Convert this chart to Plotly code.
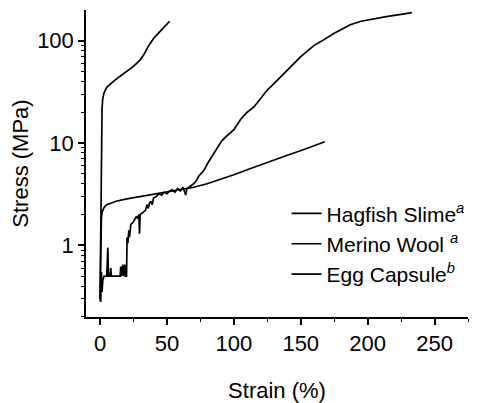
import plotly.graph_objects as go

# Hagfish slime (long curve)
hag_x = [0, 0.5, 1, 1.5, 2, 3, 4, 5, 5.8, 6.3, 7.5, 8, 8.5, 12, 15, 15.5, 16, 17, 17.5, 18.5, 19, 19.8,
         20.2, 20.8, 21.5, 22, 23, 25, 26, 27, 28, 29, 29.5, 30, 32, 34, 35, 36, 37, 38, 39, 40, 42, 44,
         46, 48, 50, 52, 54, 56, 58, 60, 62, 64, 65, 68, 70, 72, 74, 76, 78, 80, 82, 85, 88, 91, 94, 97,
         100, 105, 110, 115, 120, 125, 130, 135, 140, 145, 150, 155, 160, 165, 170, 175, 180, 187, 195,
         205, 215, 225, 233]
hag_y = [0.3, 0.28, 0.55, 0.35, 0.45, 0.5, 0.5, 0.5, 0.95, 0.5, 0.5, 0.6, 0.5, 0.5, 0.5, 0.62, 0.5, 0.65,
         0.5, 0.65, 0.5, 0.5, 1.2, 1.05, 1.4, 1.2, 1.6, 1.7, 1.8, 1.9, 1.85, 2.0, 1.3, 2.0, 2.1, 2.2, 2.5,
         2.3, 2.6, 2.7, 2.5, 2.9, 3.0, 3.2, 3.1, 3.3, 3.2, 3.4, 3.5, 3.3, 3.6, 3.4, 3.7, 3.1, 3.6, 3.8,
         4.0, 4.3, 4.8, 5.1, 5.5, 6.2, 6.8, 8, 9, 10.5, 11.5, 12.6, 13.5, 17, 20, 22.5, 27, 33, 38, 44, 52,
         60, 70, 80, 90, 98, 108, 118, 128, 143, 155, 165, 173, 181, 188]

# Merino wool (steep curve)
wool_x = [0, 0.3, 0.6, 0.9, 1.2, 1.5, 2, 3, 5, 8, 10, 15, 20, 25, 30, 33, 36, 40, 44, 48, 52]
wool_y = [0.3, 1, 3, 8, 15, 22, 27, 31, 35, 38, 40, 45, 50, 56, 65, 74, 88, 105, 120, 137, 155]

# Egg capsule (slow rising curve)
egg_x = [0, 0.3, 0.6, 1, 1.5, 2, 3, 5, 8, 12, 20, 30, 40, 50, 60, 70, 80, 90, 100, 112, 125, 140, 155, 168]
egg_y = [0.3, 0.6, 1.2, 1.8, 2.1, 2.2, 2.35, 2.5, 2.6, 2.7, 2.85, 3.0, 3.15, 3.3, 3.5, 3.7, 4.0, 4.4,
         4.9, 5.6, 6.5, 7.6, 8.9, 10.3]

names = ["Hagfish Slime<sup><i>a</i></sup>", "Merino Wool <sup><i>a</i></sup>", "Egg Capsule<sup><i>b</i></sup>"]

FONT = "Liberation Sans, Arial, sans-serif"

fig = go.Figure()
for xs, ys, nm in [(hag_x, hag_y, names[0]), (wool_x, wool_y, names[1]), (egg_x, egg_y, names[2])]:
    fig.add_trace(go.Scatter(x=xs, y=ys, mode="lines", name=nm,
                             line=dict(color="black", width=1.7)))

fig.update_layout(
    width=488, height=403,
    margin=dict(l=86, r=20, t=10, b=86, autoexpand=False),
    paper_bgcolor="white", plot_bgcolor="white",
    font=dict(family=FONT, color="black", size=22),
    showlegend=True,
    legend=dict(x=0.525, y=0.403, xanchor="left", yanchor="top",
                bgcolor="rgba(0,0,0,0)", font=dict(size=21),
                tracegroupgap=0, itemwidth=30),
)
fig.update_xaxes(
    range=[-10.5, 275], showline=True, linecolor="black", linewidth=1.5, automargin=False,
    ticks="outside", ticklen=6, tickwidth=1.5, tickcolor="black",
    tickvals=[0, 50, 100, 150, 200, 250], showgrid=False, zeroline=False,
    minor=dict(ticks="outside", ticklen=3, tickwidth=1, tickcolor="black", dtick=25, tick0=0, showgrid=False),
    title=dict(text="Strain (%)", standoff=38, font=dict(size=22)),
    tickfont=dict(size=22),
)
fig.update_yaxes(
    type="log", range=[-0.70, 2.30], showline=True, linecolor="black", linewidth=1.5, automargin=False,
    ticks="outside", ticklen=6, tickwidth=1.5, tickcolor="black",
    tickvals=[1, 10, 100], ticktext=["1", "10", "100"], showgrid=False, zeroline=False,
    minor=dict(ticks="outside", ticklen=3, tickwidth=1, tickcolor="black", dtick="D1", showgrid=False),
    title=dict(text="Stress (MPa)", standoff=2, font=dict(size=22)),
    tickfont=dict(size=22),
)

fig.write_html("out.html")
